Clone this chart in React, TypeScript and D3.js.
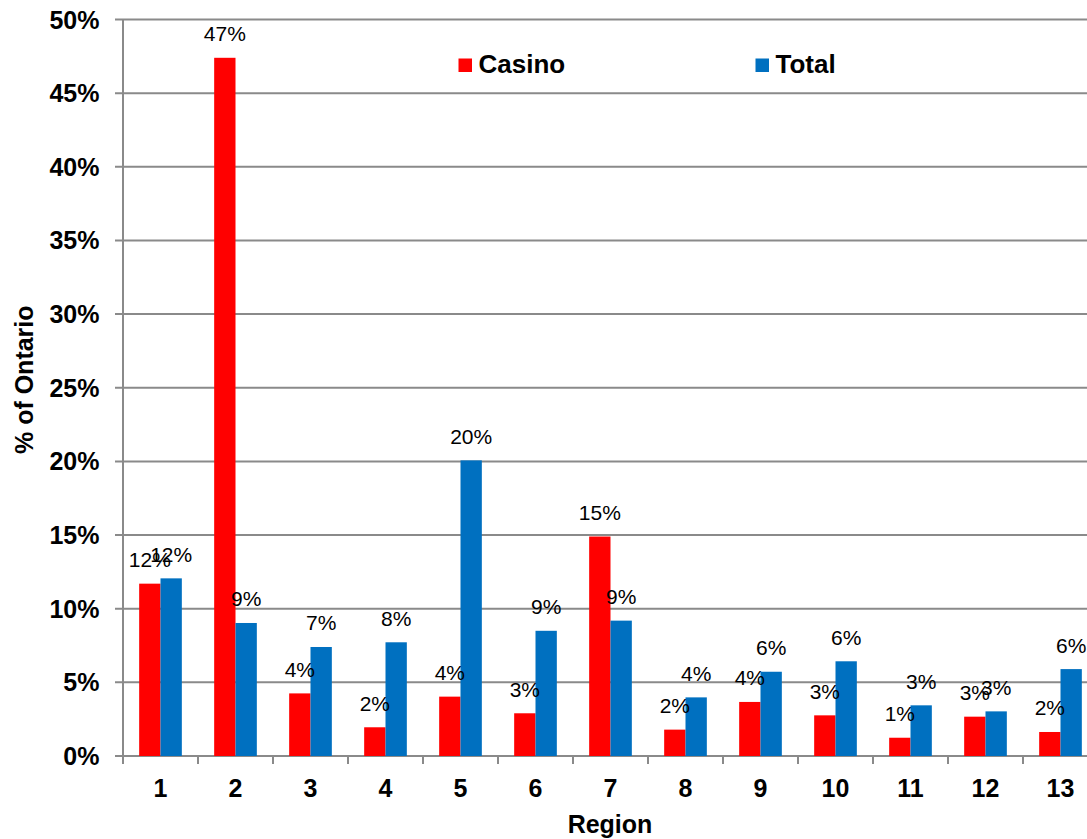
import React, { useEffect } from "react";
import * as d3 from "d3";

// Regions and share of Ontario (in percent) for each series
const regions = ["1", "2", "3", "4", "5", "6", "7", "8", "9", "10", "11", "12", "13"];
const casino = [11.7, 47.4, 4.25, 1.95, 4.03, 2.9, 14.9, 1.79, 3.67, 2.76, 1.24, 2.67, 1.63];
const total = [12.06, 9.03, 7.4, 7.72, 20.07, 8.5, 9.19, 3.98, 5.72, 6.43, 3.44, 3.03, 5.9];
const seriesNames = ["Casino", "Total"];
const seriesColors = ["#FF0000", "#0070C0"];
const yTicks = [0, 5, 10, 15, 20, 25, 30, 35, 40, 45, 50];

const W = 1087;
const H = 839;
const FONT = "'Liberation Sans', Arial, sans-serif";

export default function App() {
  useEffect(() => {
    document.body.style.margin = "0";
  }, []);

  const left = 123;
  const step = 75;
  const x0 = d3
    .scaleBand<string>()
    .domain(regions)
    .range([left, left + step * regions.length])
    .padding(0);
  const x1 = d3
    .scaleBand<string>()
    .domain(seriesNames)
    .range([0, x0.bandwidth()])
    .paddingInner(0)
    .paddingOuter(0.758);
  const y = d3.scaleLinear().domain([0, 50]).range([756, 19.5]);

  const series = [casino, total];
  const gridColor = "#8a8a8a";
  const base = y(0);

  return (
    <svg width={W} height={H} style={{ display: "block" }} fontFamily={FONT}>
      <rect width={W} height={H} fill="#fff" />
      {/* horizontal gridlines with left ticks */}
      {yTicks.map((t) => (
        <g key={t}>
          <line x1={115} x2={W} y1={y(t)} y2={y(t)} stroke={gridColor} strokeWidth={2} />
          <text
            x={99.5}
            y={y(t)}
            dy="0.36em"
            textAnchor="end"
            fontWeight="bold"
            fontSize={25}
            fill="#000"
          >
            {t}%
          </text>
        </g>
      ))}
      {/* category tick marks */}
      {regions.map((r) => (
        <line
          key={"t" + r}
          x1={x0(r)!}
          x2={x0(r)!}
          y1={base}
          y2={base + 8}
          stroke={gridColor}
          strokeWidth={2}
        />
      ))}
      {/* bars */}
      {regions.map((r, i) =>
        series.map((vals, s) => {
          const bx = x0(r)! + x1(seriesNames[s])!;
          return (
            <rect
              key={r + "-" + s}
              x={bx}
              y={y(vals[i])}
              width={x1.bandwidth()}
              height={base - y(vals[i])}
              fill={seriesColors[s]}
            />
          );
        })
      )}
      {/* y axis line */}
      <line x1={left} x2={left} y1={y(50)} y2={base + 8} stroke={gridColor} strokeWidth={2} />
      {/* value labels */}
      {regions.map((r, i) =>
        series.map((vals, s) => {
          const cx = x0(r)! + x1(seriesNames[s])! + x1.bandwidth() / 2;
          return (
            <text
              key={"l" + r + "-" + s}
              x={cx}
              y={y(vals[i]) - 16.5}
              textAnchor="middle"
              fontSize={21}
              fill="#000"
            >
              {Math.round(vals[i])}%
            </text>
          );
        })
      )}
      {/* category labels */}
      {regions.map((r) => (
        <text
          key={"c" + r}
          x={x0(r)! + x0.bandwidth() / 2}
          y={797}
          textAnchor="middle"
          fontWeight="bold"
          fontSize={25}
          fill="#000"
        >
          {r}
        </text>
      ))}
      {/* axis titles */}
      <text x={610} y={833} textAnchor="middle" fontWeight="bold" fontSize={25} fill="#000">
        Region
      </text>
      <text
        transform={`translate(33,${(y(0) + y(50)) / 2 - 8}) rotate(-90)`}
        textAnchor="middle"
        fontWeight="bold"
        fontSize={25}
        fill="#000"
      >
        % of Ontario
      </text>
      {/* legend */}
      {seriesNames.map((n, s) => {
        const lx = s === 0 ? 458.5 : 755.5;
        return (
          <g key={"lg" + n}>
            <rect x={lx} y={58.5} width={13.5} height={13.5} fill={seriesColors[s]} />
            <text x={lx + 20} y={72.5} fontWeight="bold" fontSize={26} fill="#000">
              {n}
            </text>
          </g>
        );
      })}
    </svg>
  );
}
